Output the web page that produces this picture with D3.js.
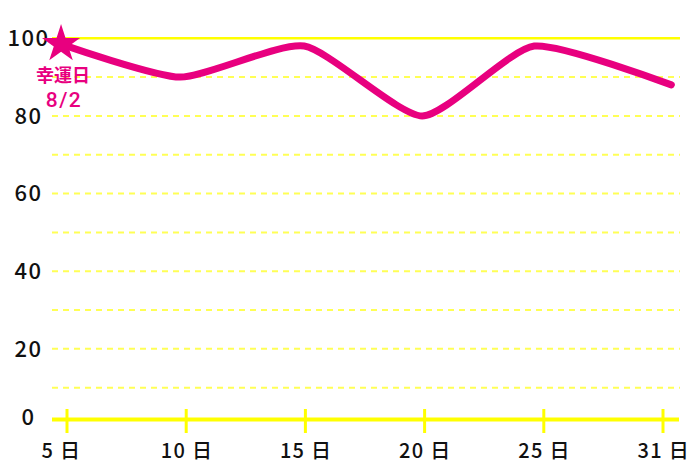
<!DOCTYPE html>
<html><head><meta charset="utf-8">
<script src="https://cdn.jsdelivr.net/npm/d3@7"></script>
<style>
html,body{margin:0;padding:0;background:#fff;}
svg{display:block;}
text{font-family:"Noto Sans CJK JP","Noto Sans",sans-serif;}
</style></head>
<body>
<script>
// ---- data ----
const dayLabels = ["5 日", "10 日", "15 日", "20 日", "25 日", "31 日"];
const lineValues = [98.5, 90, 98, 80, 98, 88];
// position of each fortune point along the day axis (in tick-index units)
const linePositions = [-0.05, 0.95, 1.99, 2.98, 3.92, 5.07];
const yTicks = [0, 20, 40, 60, 80, 100];
const gridValues = [10, 20, 30, 40, 50, 60, 70, 80, 90];
const luckyLabel = ["幸運日", "8/2"];

const W = 700, H = 467;
const pink = "#e8007f";
const svg = d3.select("body").append("svg").attr("width", W).attr("height", H);

const x = d3.scaleLinear().domain([0, dayLabels.length - 1]).range([67, 663]);
const y = d3.scaleLinear().domain([0, 100]).range([426.5, 38.3]);
const baseY = 419.5, left = 52, right = 680;

// dashed grid
svg.append("g").selectAll("line").data(gridValues).join("line")
  .attr("x1", left).attr("x2", right)
  .attr("y1", d => y(d)).attr("y2", d => y(d))
  .attr("stroke", "#ffff55").attr("stroke-width", 2)
  .attr("stroke-dasharray", "6,5");
// solid top line
svg.append("line").attr("x1", left).attr("x2", right)
  .attr("y1", y(100)).attr("y2", y(100))
  .attr("stroke", "#ffff00").attr("stroke-width", 2.5);

// x axis
svg.append("line").attr("x1", left).attr("x2", right - 1)
  .attr("y1", baseY).attr("y2", baseY)
  .attr("stroke", "#ffff00").attr("stroke-width", 4);
svg.append("g").selectAll("line").data(dayLabels).join("line")
  .attr("x1", (d, i) => x(i)).attr("x2", (d, i) => x(i))
  .attr("y1", 409).attr("y2", 433)
  .attr("stroke", "#ffff00").attr("stroke-width", 3);
svg.append("g").selectAll("text").data(dayLabels).join("text")
  .attr("x", (d, i) => x(i) - 25.5).attr("y", 458)
  .attr("text-anchor", "start")
  .attr("font-size", 20).attr("font-weight", 500).attr("letter-spacing", 1.3)
  .attr("fill", "#111")
  .text(d => d);

// y labels
svg.append("g").selectAll("text").data(yTicks).join("text")
  .attr("x", 28.5).attr("y", d => (d === 0 ? baseY - 2 : y(d)))
  .attr("dy", "0.35em")
  .attr("text-anchor", "middle")
  .attr("font-size", 22).attr("font-weight", 500).attr("letter-spacing", 1.5)
  .attr("fill", "#111")
  .text(d => d);

// line
const pts = lineValues.map((v, i) => [x(linePositions[i]), y(v)]);
svg.append("path").datum(pts)
  .attr("d", d3.line().curve(d3.curveCardinal.tension(0.4)))
  .attr("fill", "none").attr("stroke", pink)
  .attr("stroke-width", 7).attr("stroke-linecap", "round").attr("stroke-linejoin", "round");

// star at lucky point
svg.append("path")
  .attr("d", d3.symbol().type(d3.symbolStar).size(450)())
  .attr("transform", `translate(${pts[0][0]},${pts[0][1]})`)
  .attr("fill", pink);

// lucky label
svg.append("text").attr("text-anchor", "middle")
  .attr("fill", pink).attr("font-weight", 600)
  .attr("x", 63).attr("y", 81.5)
  .attr("font-size", 18).text(luckyLabel[0]);
svg.append("text").attr("text-anchor", "middle")
  .attr("fill", pink).attr("font-weight", 500)
  .style("font-family", "Roboto, sans-serif")
  .attr("x", 64).attr("y", 107)
  .attr("font-size", 21).attr("letter-spacing", 1.5).text(luckyLabel[1]);
</script>
</body></html>
